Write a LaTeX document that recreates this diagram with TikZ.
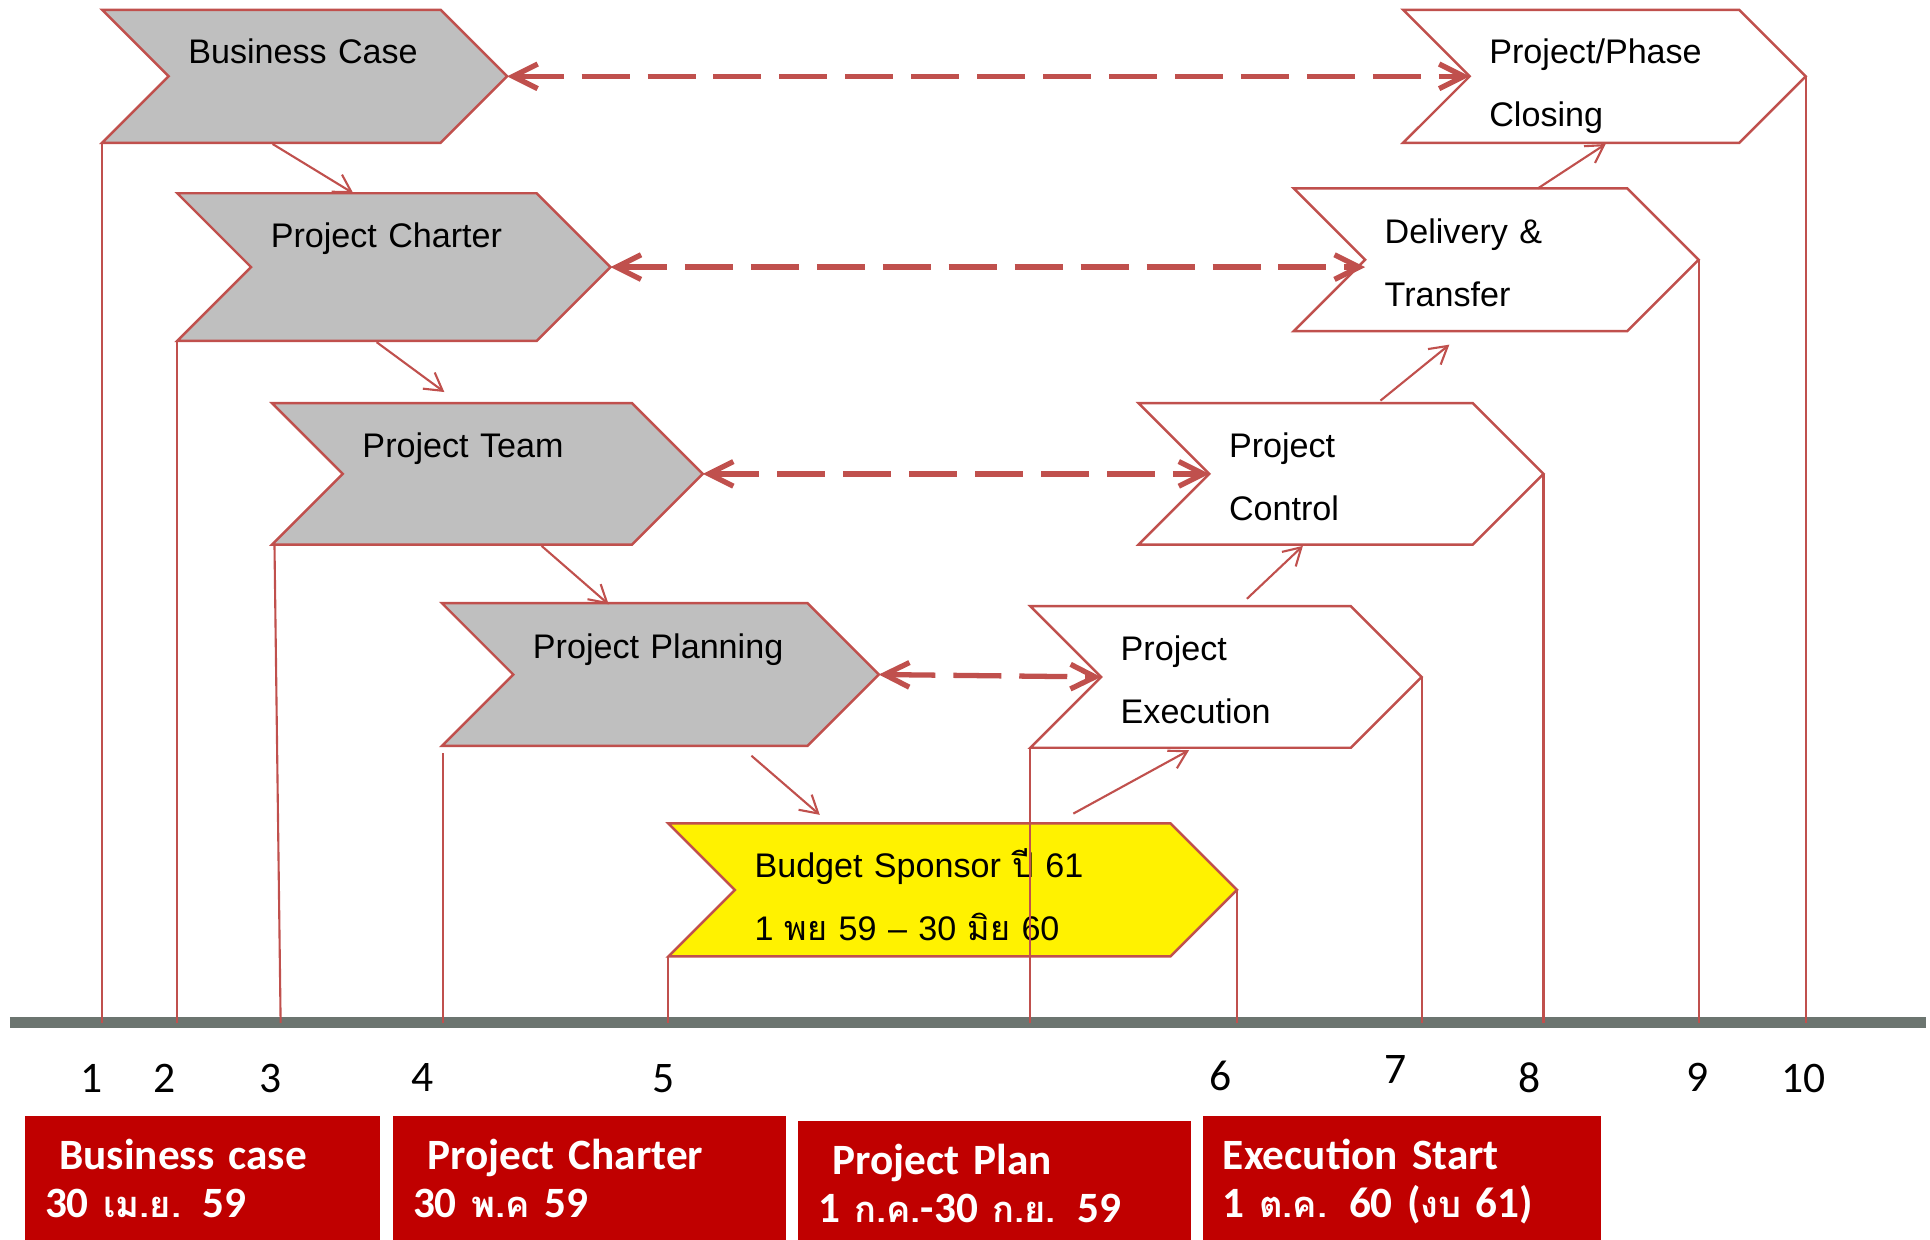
\documentclass[tikz,border=0pt]{standalone}
\usepackage{fontspec}
\setmainfont{Liberation Sans}
\newfontfamily\thaifont[Script=Thai]{Loma}
\newfontfamily\thaibold[Script=Thai, Scale=0.84]{Loma}
\newfontfamily\calibri{Carlito}
\usetikzlibrary{shapes.symbols,arrows.meta,calc}

\definecolor{lineRed}{RGB}{192,80,77}
\definecolor{phaseGray}{RGB}{191,191,191}
\definecolor{boxRed}{RGB}{192,0,0}
\definecolor{barGray}{RGB}{108,117,112}

\newcommand{\unitpx}{0.35pt}
\newcommand{\barY}{831}

\begin{document}
\begin{tikzpicture}[x=\unitpx, y=-\unitpx,
    phase/.style={signal, signal from=west, signal to=east, signal pointer angle=90,
        draw=lineRed, line width=0.7pt, fill=white, inner xsep=5.6pt, inner ysep=0pt,
        outer sep=0pt, align=left, text height=4pt, text depth=13.2pt,
        font=\fontsize{9.7}{17.85}\selectfont},
    done/.style={phase, fill=phaseGray},
    link/.style={lineRed, line width=1.5pt, dash pattern=on 13.65pt off 5.1pt,
        {Straight Barb[length=7pt,width=7pt]}-{Straight Barb[length=7pt,width=7pt]}},
    flow/.style={lineRed, line width=0.6pt, -{Straight Barb[length=4.9pt,width=5.7pt]}},
    drop/.style={lineRed, line width=0.6pt},
    datebox/.style={anchor=north west, fill=boxRed, text=white, inner xsep=5.6pt, inner ysep=0pt,
        align=left, text height=15.3pt, text depth=28.1pt,
        font=\calibri\bfseries\fontsize{12.3}{13.65}\selectfont},
    num/.style={font=\calibri\fontsize{12.4}{14}\selectfont}]

        \useasboundingbox (0,0) rectangle (1568,1007);

        % Draw the time line
        \coordinate (barL) at (8,\barY);
        \coordinate (barR) at (1565,\barY);
        \draw[barGray, line width=3.15pt] (barL) -- (barR);

        % Phases already done (grey)
        \node[done, minimum height=37.8pt, text width=66.15pt, text depth=11.1pt] (bizCase) at (247.5,62) {Business Case};
        \node[done, minimum height=42pt, text width=70pt, text depth=15.3pt] (charter) at (320,217) {Project Charter};
        \node[done, minimum height=40.25pt, text width=71.05pt] (team) at (396,385) {Project Team};
        \node[done, minimum height=40.6pt, text width=72.45pt] (planning) at (536.5,548) {Project Planning};

        % Budget
        \node[phase, fill=yellow, minimum height=37.8pt, text width=112.7pt, text depth=11.1pt] (budget) at (774,723)
            {Budget Sponsor {\thaifont ปี} 61\\1 {\thaifont พย} 59 -- 30 {\thaifont มิย} 60};

        % Phases still to come (white)
        \node[phase, minimum height=40.25pt, text width=59.85pt] (execution) at (996,550) {Project\\Execution};
        \node[phase, minimum height=40.25pt, text width=63.7pt] (control) at (1089.5,385) {Project\\Control};
        \node[phase, minimum height=40.6pt, text width=63.35pt] (delivery) at (1215.5,211) {Delivery \&\\Transfer};
        \node[phase, minimum height=37.8pt, text width=65.45pt, text depth=11.1pt] (closing) at (1303.5,62) {Project/Phase\\Closing};

        % Dashed links
        \draw[link] (bizCase.east) -- (closing.west);
        \draw[link] (charter.east) -- (charter.east -| delivery.west);
        \draw[link] (team.east) -- (control.west);
        \draw[link] (planning.east) -- (execution.west);

        % Step arrows
        \draw[flow] ($(bizCase.south)+(-26,1)$) -- ($(charter.north)+(-33,0)$);
        \draw[flow] ($(charter.south)+(-14,1)$) -- ($(team.north)+(-35,-9)$);
        \draw[flow] ($(team.south)+(44,1)$) -- ($(planning.north)+(-42,1)$);
        \draw[flow] ($(planning.south)+(74,8)$) -- ($(budget.north)+(-108,-7)$);
        \draw[flow] ($(budget.north)+(98,-8)$) -- ($(execution.south)+(-30,2)$);
        \draw[flow] ($(execution.north)+(17,-6)$) -- ($(control.south)+(-31,1)$);
        \draw[flow] ($(control.north)+(32,-2)$) -- ($(delivery.south)+(-38,11)$);
        \draw[flow] ($(delivery.north)+(34,0)$) -- ($(closing.south)+(1,1)$);

        % Lines down to the time line
        \draw[drop] (bizCase.south west) -- (bizCase.south west |- barL);
        \draw[drop] (charter.south west) -- (charter.south west |- barL);
        \draw[drop] ($(team.south west)+(2,0)$) -- ($(team.south west |- barL)+(7,0)$);
        \draw[drop] ($(planning.south west)+(1,6)$) -- ($(planning.south west |- barL)+(1,0)$);
        \draw[drop] (budget.south west) -- (budget.south west |- barL);
        \draw[drop] (execution.south west) -- (execution.south west |- barL);
        \draw[drop] (budget.east) -- (budget.east |- barL);
        \draw[drop] (execution.east) -- (execution.east |- barL);
        \draw[drop] (control.east) -- (control.east |- barL);
        \draw[drop] (delivery.east) -- (delivery.east |- barL);
        \draw[drop] (closing.east) -- (closing.east |- barL);

        % Milestone numbers
        \node[num] (num1) at (74,876) {1};
        \node[num] (num2) at (134,876) {2};
        \node[num] (num3) at (220,876) {3};
        \node[num] (num4) at (343,875) {4};
        \node[num] (num5) at (539,876) {5};
        \node[num] (num6) at (992,874) {6};
        \node[num] (num7) at (1134,869) {7};
        \node[num] (num8) at (1243,876) {8};
        \node[num] (num9) at (1379,875) {9};
        \node[num] (num10) at (1465,876) {10};

        % Dates
        \node[datebox, text width=89.6pt] (bizDate) at (20,906) {~Business case\\30 {\thaibold เม.ย.} 59};
        \node[datebox, text width=100.45pt] (charterDate) at (319,906) {~Project Charter\\30 {\thaibold พ.ค} 59};
        \node[datebox, text width=100.45pt] (planDate) at (648,910) {~Project Plan\\1 {\thaibold ก.ค.}-30 {\thaibold ก.ย.} 59};
        \node[datebox, text width=101.85pt] (execDate) at (977,906) {Execution Start\\1 {\thaibold ต.ค.} 60 ({\thaibold งบ} 61)};
    \end{tikzpicture}
\end{document}
